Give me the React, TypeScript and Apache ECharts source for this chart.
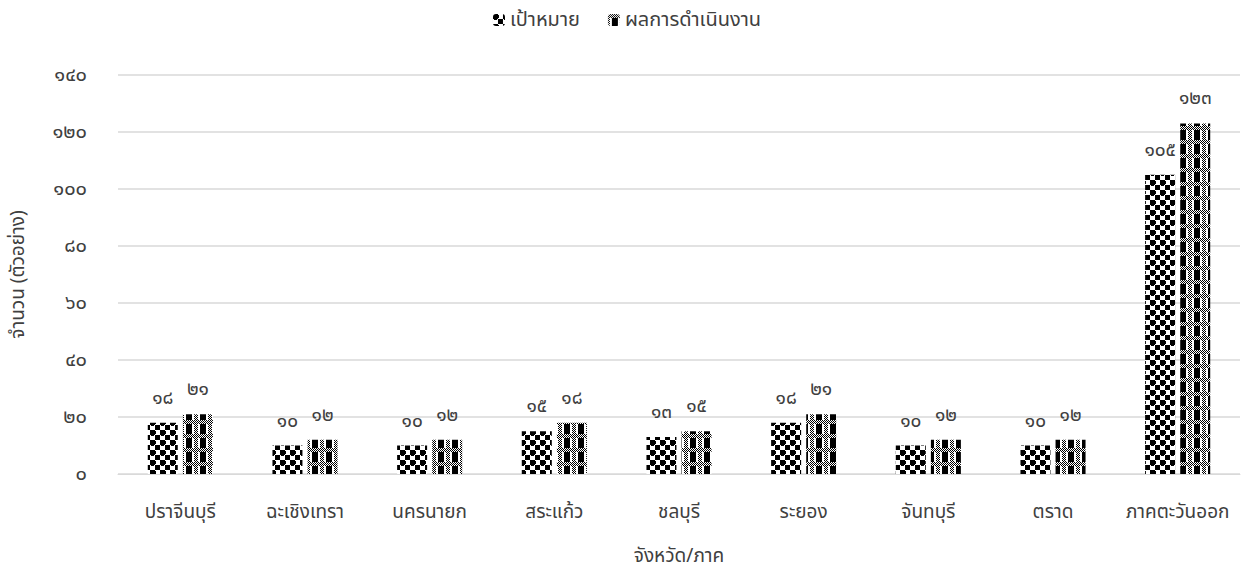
import React, { useEffect, useRef } from "react";
import * as echarts from "echarts";

const categories = ["ปราจีนบุรี", "ฉะเชิงเทรา", "นครนายก", "สระแก้ว", "ชลบุรี", "ระยอง", "จันทบุรี", "ตราด", "ภาคตะวันออก"];
const targetValues = [18, 10, 10, 15, 13, 18, 10, 10, 105];
const actualValues = [21, 12, 12, 18, 15, 21, 12, 12, 123];
const seriesNames = ["เป้าหมาย", "ผลการดำเนินงาน"];
const yTicks = { min: 0, max: 140, interval: 20 };

const thaiDigits = "๐๑๒๓๔๕๖๗๘๙";
const toThai = (v: number | string) => String(v).replace(/[0-9]/g, (d) => thaiDigits[+d]);

function makeCheckerPattern(): HTMLCanvasElement {
  const c = document.createElement("canvas");
  c.width = 10;
  c.height = 10;
  const ctx = c.getContext("2d")!;
  ctx.fillStyle = "#fff";
  ctx.fillRect(0, 0, 10, 10);
  ctx.fillStyle = "#000";
  ctx.fillRect(0, 0, 5, 5);
  ctx.fillRect(5, 5, 5, 5);
  ctx.fillRect(5, 1, 1, 3);
  ctx.fillRect(1, 5, 3, 1);
  return c;
}

function makeWeavePattern(): HTMLCanvasElement {
  const w = 14;
  const h = 14;
  const c = document.createElement("canvas");
  c.width = w;
  c.height = h;
  const ctx = c.getContext("2d")!;
  ctx.fillStyle = "#fff";
  ctx.fillRect(0, 0, w, h);
  ctx.fillStyle = "#000";
  for (let y = 0; y < h; y++) {
    for (let x = 0; x < w; x++) {
      const inBand = y < 4;
      const inBlack = x >= 4 && x <= 9 && !inBand;
      const sideChecker = (x < 2 || x > 11) && (x + y) % 2 === 0;
      if (inBlack) ctx.fillRect(x, y, 1, 1);
      else if (inBand && (x + y) % 2 === 0) ctx.fillRect(x, y, 1, 1);
      else if (sideChecker) ctx.fillRect(x, y, 1, 1);
    }
  }
  return c;
}

export default function App() {
  const ref = useRef<HTMLDivElement>(null);
  useEffect(() => {
    if (!ref.current) return;
    const chart = echarts.init(ref.current, null, { renderer: "svg" });
    const font = "'Noto Sans Thai', 'Noto Sans', Tahoma, sans-serif";
    const p1 = { image: makeCheckerPattern(), repeat: "repeat" };
    const p2 = { image: makeWeavePattern(), repeat: "repeat" };
    const labelStyle = {
      show: true,
      position: "top" as const,
      distance: 15,
      color: "#404040",
      fontSize: 19,
      fontFamily: font,
      formatter: (p: any) => toThai(p.value),
    };
    chart.setOption({
      animation: false,
      textStyle: { fontFamily: font },
      legend: {
        top: 5,
        left: "center",
        itemWidth: 12,
        itemHeight: 12,
        itemGap: 28,
        textStyle: { color: "#404040", fontSize: 20, fontFamily: font },
        data: seriesNames,
      },
      grid: { left: 118, right: 14, top: 75, bottom: 98, outerBoundsMode: "none", containLabel: false },
      xAxis: {
        type: "category",
        data: categories,
        name: "จังหวัด/ภาค",
        nameLocation: "middle",
        nameGap: 73,
        nameTextStyle: { color: "#404040", fontSize: 19, fontFamily: font },
        axisLine: { lineStyle: { color: "#d9d9d9" } },
        axisTick: { show: false },
        axisLabel: { color: "#404040", fontSize: 19, margin: 29, interval: 0, fontFamily: font },
      },
      yAxis: {
        type: "value",
        min: yTicks.min,
        max: yTicks.max,
        interval: yTicks.interval,
        name: "จำนวน (ตัวอย่าง)",
        nameLocation: "middle",
        nameGap: 90,
        nameTextStyle: { color: "#404040", fontSize: 19, fontFamily: font },
        axisLine: { show: false },
        axisTick: { show: false },
        splitLine: { lineStyle: { color: "#d9d9d9", width: 1.5 } },
        axisLabel: { color: "#404040", fontSize: 20, margin: 31, fontFamily: font, formatter: (v: number) => toThai(v) },
      },
      series: [
        {
          name: seriesNames[0],
          type: "bar",
          data: targetValues,
          barWidth: 30,
          barGap: "17%",
          itemStyle: { color: p1 },
          label: labelStyle,
        },
        {
          name: seriesNames[1],
          type: "bar",
          data: actualValues,
          barWidth: 30,
          itemStyle: { color: p2 },
          label: labelStyle,
        },
      ],
    });
    return () => chart.dispose();
  }, []);
  return <div ref={ref} style={{ position: "absolute", left: 0, top: 0, width: 1254, height: 572 }} />;
}
